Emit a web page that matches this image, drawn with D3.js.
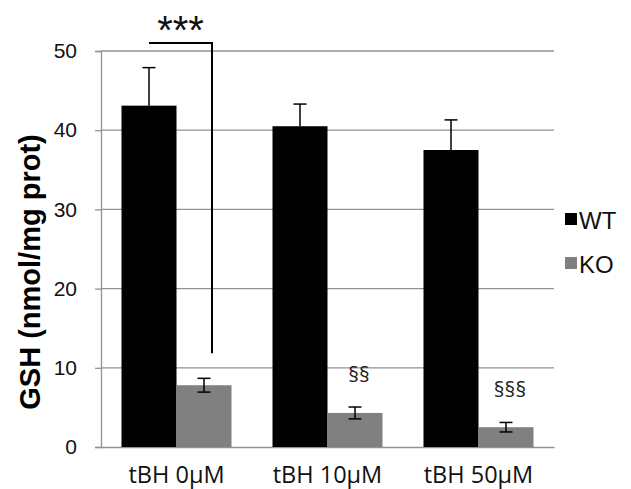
<!DOCTYPE html>
<html>
<head>
<meta charset="utf-8">
<script src="https://cdn.jsdelivr.net/npm/d3@7"></script>
<style>
  body { margin: 0; background: #fff; }
  svg { display: block; }
  .sans { font-family: "Liberation Sans", Arial, sans-serif; }
  .cal { font-family: "Open Sans", sans-serif; }
</style>
</head>
<body>
<div class="chart"></div>
<script>
// GSH levels, WT vs KO, under tBH treatment
const categories = ["tBH 0\u03bcM", "tBH 10\u03bcM", "tBH 50\u03bcM"];
const groups = ["WT", "KO"];
const wtValues = [43.1, 40.5, 37.5];
const wtErrors = [4.8, 2.8, 3.8];
const koValues = [7.8, 4.3, 2.5];
const koErrors = [0.87, 0.75, 0.6];
const koMarks = ["", "\u00a7\u00a7", "\u00a7\u00a7\u00a7"];
const yTicks = [0, 10, 20, 30, 40, 50];

const w = 631;
const h = 489;
const margin = { top: 51, right: 77, bottom: 42, left: 101 };

const rows = categories.map((c, i) => ({
  cat: c,
  bars: [
    { group: "WT", value: wtValues[i], err: wtErrors[i] },
    { group: "KO", value: koValues[i], err: koErrors[i], mark: koMarks[i] }
  ]
}));

const colors = d3.scaleOrdinal().domain(groups).range(["#000000", "#808080"]);

const svg = d3
  .select(".chart")
  .append("svg")
  .attr("width", w)
  .attr("height", h);

const x0 = d3
  .scaleBand()
  .domain(categories)
  .range([margin.left, w - margin.right])
  .padding(0);

const x1 = d3
  .scaleBand()
  .domain(groups)
  .range([20.5, x0.bandwidth() - 20.5]);

const yScale = d3
  .scaleLinear()
  .domain([0, 50])
  .range([h - margin.bottom, margin.top]);

// gridlines
svg
  .append("g")
  .selectAll("line")
  .data(yTicks.slice(1))
  .enter()
  .append("line")
  .attr("x1", margin.left)
  .attr("x2", w - margin.right)
  .attr("y1", (d) => yScale(d))
  .attr("y2", (d) => yScale(d))
  .attr("stroke", "#929292")
  .attr("stroke-width", 1.3);

// y axis
const yAxis = d3
  .axisLeft(yScale)
  .tickValues(yTicks)
  .tickSize(6)
  .tickPadding(18);

const yG = svg
  .append("g")
  .attr("transform", "translate(" + margin.left + ",0)")
  .call(yAxis)
  .attr("font-family", null)
  .attr("class", "sans");
yG.selectAll("path, line").attr("stroke", "#929292").attr("stroke-width", 1.3);
yG.selectAll("text")
  .attr("font-size", 21)
  .attr("fill", "#111");

// x axis
const xAxis = d3.axisBottom(x0).tickSize(0).tickPadding(19);
const xG = svg
  .append("g")
  .attr("transform", "translate(0," + yScale(0) + ")")
  .call(xAxis)
  .attr("font-family", null)
  .attr("class", "cal");
xG.select("path").attr("stroke", "#929292").attr("stroke-width", 1.3);
xG.selectAll("text")
  .attr("font-size", 23.5)
  .attr("fill", "#111");

// bars
const groupG = svg
  .selectAll(".grp")
  .data(rows)
  .enter()
  .append("g")
  .attr("class", "grp")
  .attr("transform", (d) => "translate(" + x0(d.cat) + ",0)");

const barG = groupG
  .selectAll(".bar")
  .data((d) => d.bars)
  .enter()
  .append("g")
  .attr("class", "bar");

barG
  .append("rect")
  .attr("x", (d) => x1(d.group))
  .attr("y", (d) => yScale(d.value))
  .attr("width", x1.bandwidth())
  .attr("height", (d) => yScale(0) - yScale(d.value))
  .attr("fill", (d) => colors(d.group));

// error bars (WT up only, KO both ways)
const cx = (d) => x1(d.group) + x1.bandwidth() / 2;
const lowOf = (d) => (d.group === "WT" ? d.value : d.value - d.err);

barG
  .append("line")
  .attr("x1", cx)
  .attr("x2", cx)
  .attr("y1", (d) => yScale(lowOf(d)))
  .attr("y2", (d) => yScale(d.value + d.err))
  .attr("stroke", "#000")
  .attr("stroke-width", 1.5);

barG
  .append("line")
  .attr("x1", (d) => cx(d) - 6.5)
  .attr("x2", (d) => cx(d) + 6.5)
  .attr("y1", (d) => yScale(d.value + d.err))
  .attr("y2", (d) => yScale(d.value + d.err))
  .attr("stroke", "#000")
  .attr("stroke-width", 1.5);

barG
  .filter((d) => d.group === "KO")
  .append("line")
  .attr("x1", (d) => cx(d) - 6.5)
  .attr("x2", (d) => cx(d) + 6.5)
  .attr("y1", (d) => yScale(d.value - d.err))
  .attr("y2", (d) => yScale(d.value - d.err))
  .attr("stroke", "#000")
  .attr("stroke-width", 1.5);

// § marks above KO bars
barG
  .filter((d) => d.mark)
  .append("text")
  .attr("class", "cal")
  .attr("x", (d) => cx(d) + 4)
  .attr("y", (d) => yScale(d.value + d.err) - 25)
  .attr("text-anchor", "middle")
  .attr("font-size", 21)
  .attr("fill", "#222")
  .text((d) => d.mark);

// significance bracket WT vs KO at 0uM
const bx1 = x0(categories[0]) + x1("WT") + x1.bandwidth() / 2;
const bx2 = x0(categories[0]) + x1("KO") + x1.bandwidth() / 2 + 8;
const by = yScale(50) - 8;
svg
  .append("path")
  .attr(
    "d",
    "M" + bx1 + "," + by + "H" + bx2 + "V" + (yScale(koValues[0] + koErrors[0]) - 25)
  )
  .attr("fill", "none")
  .attr("stroke", "#000")
  .attr("stroke-width", 2);

svg
  .append("text")
  .attr("class", "sans")
  .attr("x", (bx1 + bx2) / 2)
  .attr("y", by + 1)
  .attr("text-anchor", "middle")
  .attr("font-size", 40)
  .attr("fill", "#111")
  .text("***");

// y axis title
svg
  .append("text")
  .attr("class", "sans")
  .attr("transform", "translate(40,272) rotate(-90)")
  .attr("text-anchor", "middle")
  .attr("font-weight", "bold")
  .attr("font-size", 29)
  .attr("fill", "#000")
  .text("GSH (nmol/mg prot)");

// legend
const legend = svg
  .selectAll(".legend")
  .data(groups)
  .enter()
  .append("g")
  .attr("class", "legend sans")
  .attr("transform", (d, i) => "translate(565," + (213 + i * 44) + ")");

legend
  .append("rect")
  .attr("width", 12)
  .attr("height", 12)
  .attr("fill", (d) => colors(d));

legend
  .append("text")
  .attr("x", 14)
  .attr("y", 16)
  .attr("font-size", 24)
  .attr("fill", "#111")
  .text((d) => d);
</script>
</body>
</html>
